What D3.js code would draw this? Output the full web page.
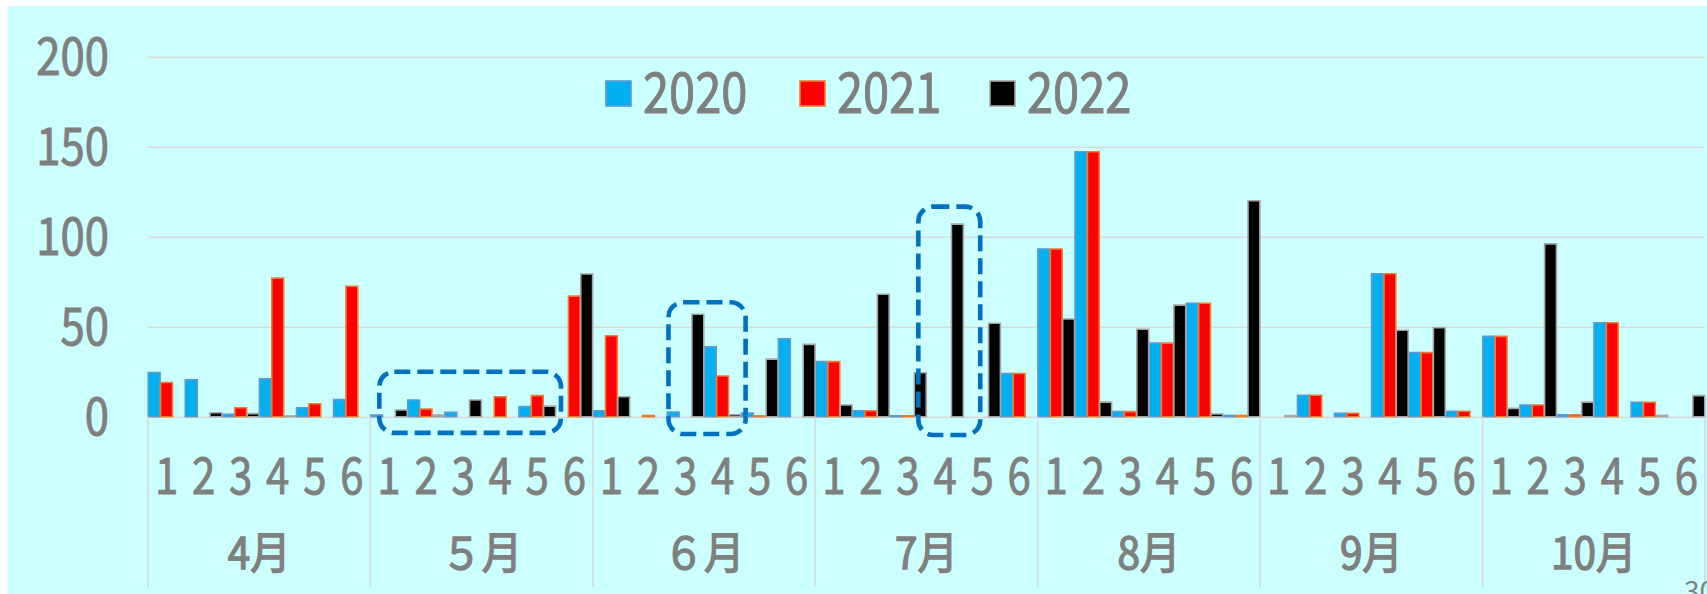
<!DOCTYPE html>
<html><head><meta charset="utf-8">
<script src="https://cdn.jsdelivr.net/npm/d3@7"></script>
<style>
body{margin:0;background:#fff}
svg{display:block}
text{font-family:"Noto Sans CJK JP","Noto Sans",sans-serif;fill:#7f7f7f}
</style>
</head><body>
<svg id="c" width="1707" height="594"></svg>
<script>
// ---- data ----
const months = ["4月", "５月", "６月", "7月", "8月", "9月", "10月"];
const weeks = ["1", "2", "3", "4", "5", "6"];
const seriesNames = ["2020", "2021", "2022"];
const yTicks = [0, 50, 100, 150, 200];
// values per (month, week) in order; null = no bar
const v2020 = [
  24.5, 20.5, 1.3, 21, 5, 9.5,
  0.9, 9.3, 2.4, null, 5.6, null,
  3.3, null, 2.6, 38.8, 2, 43.3,
  30.6, 3.3, 0.5, null, null, 24,
  93.2, 147.2, 2.8, 40.9, 63, 0.7,
  null, 11.9, 1.9, 79.4, 35.6, 3,
  44.6, 6.5, 1, 52.2, 8, null
];
const v2021 = [
  19, null, 5, 77, 7.2, 72.5,
  null, 4.3, null, 11.1, 11.7, 67,
  45, 0.7, null, 22.6, 0.5, null,
  30.6, 3.3, 0.5, null, null, 24,
  93.2, 147.2, 2.8, 40.9, 63, 0.7,
  null, 11.9, 1.9, 79.4, 35.6, 3,
  44.6, 6.5, 1, 52.2, 8, null
];
const v2022 = [
  null, 2.2, 1.7, 0.4, null, null,
  3.7, 0.9, 9.3, null, 5.9, 79.3,
  11.1, null, 56.9, 1.1, 32, 40.2,
  6.5, 68, 24.4, 107, 51.9, null,
  54.3, 8.1, 48.6, 62, 1.5, 120,
  0.6, null, null, 48, 49.4, null,
  4.6, 96, 8.1, null, 0.7, 11.7
];
// annotation boxes (category-index positions, value extents)
const boxStart = [6.24, 14.04, 20.78];
const boxEnd = [11.14, 16.12, 22.45];
const boxTop = [25, 63.6, 116.7];
const boxBottom = [-9, -9.6, -10.2];

// ---- styles ----
const fills = ["#00B0F0", "#FF0000", "#000000"];
const strokes = ["#5B9BD5", "#ED7D31", "#A5A5A5"];
const plotLeft = 148, plotRight = 1705, y0px = 416.7, y200px = 56.7;
const grey = "#D9D9D9";
const txt = "#7f7f7f";

const svg = d3.select("#c");
svg.append("rect").attr("x", 7.5).attr("y", 6).attr("width", 1707).attr("height", 594).attr("fill", "#CCFFFF");

const cats = [];
months.forEach((m, mi) => weeks.forEach((w, wi) => cats.push({m, w, i: mi * 6 + wi})));
const values = [v2020, v2021, v2022];

const x = d3.scaleBand().domain(cats.map(c => c.i)).range([plotLeft, plotRight]).padding(0);
const xi = d3.scaleLinear().domain([0, cats.length]).range([plotLeft, plotRight]);
const xm = d3.scaleBand().domain(months).range([plotLeft, plotRight]).padding(0);
const xs = d3.scaleBand().domain(seriesNames).range([0, x.bandwidth()]).paddingInner(0.04).paddingOuter(0.02);
const y = d3.scaleLinear().domain([0, 200]).range([y0px, y200px]);

// y axis with gridlines
const sx = 0.84;
const yAxis = d3.axisLeft(y).tickValues(yTicks).tickSize(-(plotRight - plotLeft)).tickPadding(0);
const gy = svg.append("g").attr("transform", `translate(${plotLeft},0)`).call(yAxis);
gy.select(".domain").remove();
gy.selectAll(".tick line").attr("stroke", grey).attr("stroke-width", 1.6);
gy.selectAll(".tick text")
  .attr("x", -39 / sx).attr("dy", "0.35em")
  .attr("transform", `scale(${sx},1)`)
  .style("font-size", "52px").style("fill", txt)
  .style("stroke", txt).style("stroke-width", "1px");

// bars
seriesNames.forEach((s, si) => {
  svg.append("g").selectAll("path").data(cats.filter(c => values[si][c.i] != null)).join("path")
    .attr("d", c => {
      const bx = x(c.i) + xs(s), w = xs.bandwidth(), v = values[si][c.i];
      return `M${bx},${y(0)}V${y(v)}H${bx + w}V${y(0)}Z`;
    })
    .attr("fill", fills[si]).attr("stroke", strokes[si]).attr("stroke-width", 1.6);
});

// month dividers
const divs = d3.range(months.length + 1).map(k => k === months.length ? plotRight : xm(months[k]));
svg.append("g").selectAll("line").data(divs).join("line")
  .attr("x1", d => d).attr("x2", d => d).attr("y1", y(0)).attr("y2", 587)
  .attr("stroke", grey).attr("stroke-width", 1.6);

// week labels
svg.append("g").selectAll("text").data(cats).join("text")
  .attr("transform", c => `translate(${x(c.i) + x.bandwidth() / 2},476) scale(${sx},1)`)
  .attr("text-anchor", "middle").attr("dy", "0.35em")
  .style("font-size", "50px").style("stroke", txt).style("stroke-width", "0.9px").text(c => c.w);

// month labels
svg.append("g").selectAll("text").data(months).join("text")
  .attr("transform", m => `translate(${xm(m) + xm.bandwidth() / 2},554) scale(0.92,1)`)
  .attr("text-anchor", "middle").attr("dy", "0.35em")
  .style("font-size", "44px")
  .style("stroke", txt).style("stroke-width", "1.4px").text(m => m);

// legend
const legX = [606, 800, 990];
const lg = svg.append("g").selectAll("g").data(seriesNames).join("g")
  .attr("transform", (d, i) => `translate(${legX[i]},93.5)`);
lg.append("rect").attr("x", 0).attr("y", -12.5).attr("width", 25).attr("height", 25)
  .attr("fill", (d, i) => fills[i]).attr("stroke", (d, i) => strokes[i]).attr("stroke-width", 1.6);
lg.append("text").attr("transform", `translate(37,0) scale(0.84,1)`).attr("dy", "0.35em")
  .style("font-size", "56px").style("stroke", txt).style("stroke-width", "1px").text(d => d);

// annotation boxes
svg.append("g").selectAll("rect").data(boxStart.map((b, i) => i)).join("rect")
  .attr("x", i => xi(boxStart[i])).attr("width", i => xi(boxEnd[i]) - xi(boxStart[i]))
  .attr("y", i => y(boxTop[i])).attr("height", i => y(boxBottom[i]) - y(boxTop[i]))
  .attr("rx", 15).attr("ry", 15)
  .attr("fill", "none").attr("stroke", "#0070C0").attr("stroke-width", 4.6)
  .attr("stroke-dasharray", "16,7");

// page number (cut off at the page edge, as in the source)
svg.append("text").attr("x", 1684).attr("y", 601).style("font-size", "28px").style("fill", "#808080").text("30");
</script>
</body></html>
